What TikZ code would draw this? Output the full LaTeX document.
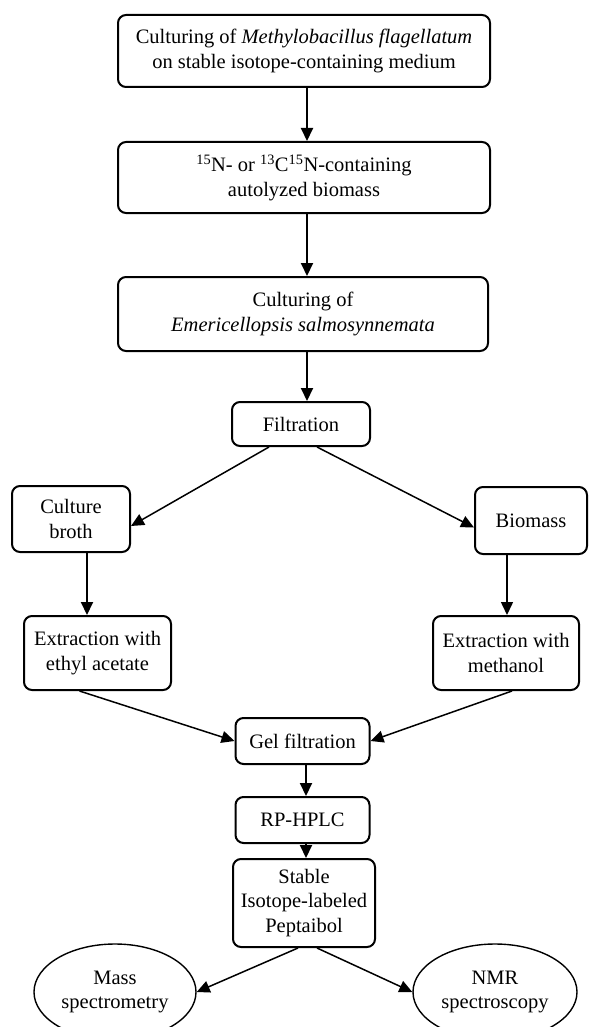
\documentclass[tikz,border=0pt]{standalone}
\usepackage{fontspec}
\setmainfont{Liberation Serif}
\usetikzlibrary{arrows.meta,shapes.geometric}
\begin{document}
\begin{tikzpicture}[x=1pt,y=1pt,
  box/.style={draw,line width=2pt,rounded corners=8pt,align=center,inner sep=0pt,
    font=\fontsize{20.5}{24.5}\selectfont},
  oval/.style={draw,ellipse,line width=1.4pt,align=center,inner sep=0pt,
    font=\fontsize{20.5}{24.5}\selectfont},
  arr/.style={line width=2pt,-{Triangle[length=13pt,width=12pt]}},
  darr/.style={line width=1.5pt,-{Triangle[length=13pt,width=12pt]}}]
\useasboundingbox (0,0) rectangle (589,-1027);
\node[box,minimum width=372pt,minimum height=72pt] (b1) at (304,-51)
  {Culturing of \textit{Methylobacillus flagellatum}\\on stable isotope-containing medium};
\node[box,minimum width=372pt,minimum height=71pt] (b2) at (304,-177.5)
  {\textsuperscript{15}N- or \textsuperscript{13}C\textsuperscript{15}N-containing\\autolyzed biomass};
\node[box,minimum width=370pt,minimum height=74pt] (b3) at (303,-314)
  {Culturing of\\\textit{Emericellopsis salmosynnemata}};
\node[box,minimum width=138pt,minimum height=44pt] (filt) at (301,-424) {Filtration};
\node[box,minimum width=118pt,minimum height=66pt] (broth) at (71,-519) {Culture\\broth};
\node[box,minimum width=112pt,minimum height=67pt] (bio) at (531,-520.5) {Biomass};
\node[box,minimum width=147pt,minimum height=74pt] (ext1) at (97.5,-653) {Extraction with\\ethyl acetate};
\node[box,minimum width=146pt,minimum height=74pt] (ext2) at (506,-653) {Extraction with\\methanol};
\node[box,minimum width=134pt,minimum height=46pt] (gel) at (302.5,-741) {Gel filtration};
\node[box,minimum width=134pt,minimum height=46pt] (rp) at (302.5,-820) {RP-HPLC};
\node[box,minimum width=142pt,minimum height=88pt] (st) at (304,-903) {Stable\\Isotope-labeled\\Peptaibol};
\node[oval,minimum width=162pt,minimum height=96pt] (ms) at (115,-992) {Mass\\spectrometry};
\node[oval,minimum width=164pt,minimum height=96pt] (nmr) at (495,-992) {NMR\\spectroscopy};
\draw[arr] ([xshift=3pt]b1.south) -- ([xshift=3pt]b2.north);
\draw[arr] ([xshift=3pt]b2.south) -- ([xshift=4pt]b3.north);
\draw[arr] ([xshift=4pt]b3.south) -- ([xshift=6pt]filt.north);
\draw[darr] ([xshift=-32pt]filt.south) -- ([yshift=-7pt]broth.east);
\draw[darr] ([xshift=16pt]filt.south) -- ([yshift=-7pt]bio.west);
\draw[arr] ([xshift=16pt]broth.south) -- ([xshift=-10.5pt]ext1.north);
\draw[darr] ([xshift=-24pt]bio.south) -- ([xshift=1pt]ext2.north);
\draw[darr] ([xshift=-18pt]ext1.south) -- (gel.west);
\draw[darr] ([xshift=6pt]ext2.south) -- (gel.east);
\draw[arr] ([xshift=3.5pt]gel.south) -- ([xshift=3.5pt]rp.north);
\draw[arr] ([xshift=3.5pt]rp.south) -- ([xshift=2pt]st.north);
\draw[darr] ([xshift=-6pt]st.south) -- (ms.east);
\draw[darr] ([xshift=13pt]st.south) -- (nmr.west);
\end{tikzpicture}
\end{document}
